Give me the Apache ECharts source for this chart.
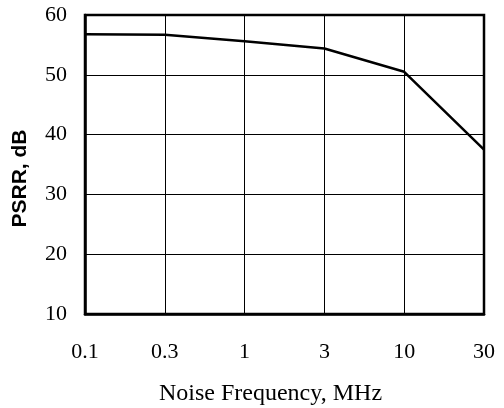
<!DOCTYPE html>
<html>
<head>
<meta charset="utf-8">
<script src="https://cdn.jsdelivr.net/npm/echarts@6/dist/echarts.min.js"></script>
<style>
  html, body { margin: 0; padding: 0; background: #fff; }
  #chart { width: 504px; height: 408px; }
</style>
</head>
<body>
<div id="chart"></div>
<script>
// Noise frequency points (MHz), evenly spaced on the axis
const frequencies = ['0.1', '0.3', '1', '3', '10', '30'];
// Power-supply rejection ratio at each frequency (dB)
const psrr = [56.8, 56.7, 55.6, 54.4, 50.5, 37.5];
// Y-axis range
const yMin = 10;
const yMax = 60;
const yStep = 10;

const serif = '"Liberation Serif", "Times New Roman", serif';
const chart = echarts.init(document.getElementById('chart'), null, { renderer: 'canvas' });

chart.setOption({
  animation: false,
  backgroundColor: '#fff',
  grid: {
    left: 85, right: 20, top: 15, bottom: 94,
    outerBoundsMode: 'none',
    containLabel: false,
    show: true,
    borderColor: '#000',
    borderWidth: 2.5
  },
  xAxis: {
    type: 'category',
    data: frequencies,
    boundaryGap: false,
    name: 'Noise Frequency, MHz',
    nameLocation: 'middle',
    nameGap: 68,
    nameTextStyle: {
      fontFamily: serif, fontSize: 24, color: '#000',
      padding: [0, 28, 0, 0]
    },
    axisLine: { show: true, lineStyle: { color: '#000', width: 2.5 } },
    axisTick: { show: false },
    axisLabel: { fontFamily: serif, fontSize: 22, color: '#000', margin: 27 },
    splitLine: { show: true, lineStyle: { color: '#000', width: 1 } }
  },
  yAxis: {
    type: 'value',
    min: yMin,
    max: yMax,
    interval: yStep,
    name: 'PSRR, dB',
    nameLocation: 'middle',
    nameGap: 54,
    nameTextStyle: {
      fontFamily: '"Liberation Sans", Arial, sans-serif',
      fontWeight: 'bold',
      fontSize: 21,
      color: '#000',
      padding: [0, 28, 0, 0]
    },
    axisLine: { show: true, lineStyle: { color: '#000', width: 2.5 } },
    axisTick: { show: false },
    axisLabel: { fontFamily: serif, fontSize: 22, color: '#000', margin: 18 },
    splitLine: { show: true, lineStyle: { color: '#000', width: 1 } }
  },
  series: [{
    type: 'line',
    data: psrr,
    symbol: 'none',
    lineStyle: { color: '#000', width: 2.5 },
    z: 5
  }]
});
</script>
</body>
</html>
